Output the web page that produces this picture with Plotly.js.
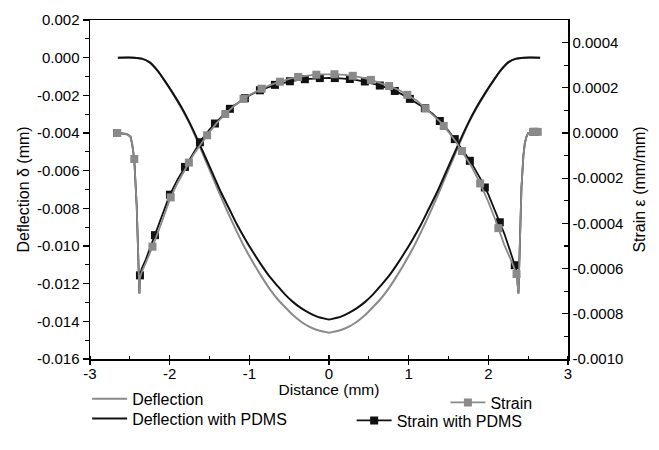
<!DOCTYPE html>
<html>
<head>
<meta charset="utf-8">
<script src="https://cdn.plot.ly/plotly-3.0.1.min.js"></script>
<style>html,body{margin:0;padding:0;background:#fff;}#chart{width:659px;height:450px;}</style>
</head>
<body>
<div id="chart"></div>
<script>
// ---------- data ----------
const deflDist = [-2.65,-2.45,-2.35,-2.25,-2.15,-2.05,-1.95,-1.85,-1.75,-1.65,-1.55,-1.45,-1.35,-1.25,-1.15,-1.05,-0.95,-0.85,-0.75,-0.65,-0.55,-0.45,-0.35,-0.25,-0.15,-0.05,0,
  0.05,0.15,0.25,0.35,0.45,0.55,0.65,0.75,0.85,0.95,1.05,1.15,1.25,1.35,1.45,1.55,1.65,1.75,1.85,1.95,2.05,2.15,2.25,2.35,2.45,2.65];
const deflection = [0,0,-0.00005,-0.00025,-0.0007,-0.00132,-0.00198,-0.0027,-0.0035,-0.00445,-0.00545,-0.00645,-0.00745,-0.0084,-0.0093,-0.01015,-0.0109,-0.0116,-0.01225,-0.0128,-0.01325,-0.01368,-0.01402,-0.01428,-0.01446,-0.01456,-0.0146,
  -0.01456,-0.01446,-0.01428,-0.01402,-0.01368,-0.01325,-0.0128,-0.01225,-0.0116,-0.0109,-0.01015,-0.0093,-0.0084,-0.00745,-0.00645,-0.00545,-0.00445,-0.0035,-0.0027,-0.00198,-0.00132,-0.0007,-0.00025,-0.00005,0,0];
const deflectionPDMS = [0,0,-0.00005,-0.00025,-0.0007,-0.0013,-0.00195,-0.00265,-0.00345,-0.00435,-0.0053,-0.00625,-0.0072,-0.00805,-0.0089,-0.00965,-0.01035,-0.011,-0.0116,-0.0121,-0.01258,-0.01298,-0.0133,-0.01355,-0.01375,-0.01386,-0.0139,
  -0.01386,-0.01375,-0.01355,-0.0133,-0.01298,-0.01258,-0.0121,-0.0116,-0.011,-0.01035,-0.00965,-0.0089,-0.00805,-0.0072,-0.00625,-0.0053,-0.00435,-0.00345,-0.00265,-0.00195,-0.0013,-0.0007,-0.00025,-0.00005,0,0];

const strainDist = [-2.66,-2.6,-2.55,-2.52,-2.49,-2.47,-2.445,-2.414,-2.394,-2.38,-2.373,-2.35,-2.3,
  -2.2,-2.1,-2.0,-1.9,-1.8,-1.7,-1.6,-1.5,-1.4,-1.3,-1.2,-1.1,-1.0,-0.9,-0.8,-0.7,-0.6,-0.5,-0.4,-0.3,-0.2,-0.1,0,
  0.1,0.2,0.3,0.4,0.5,0.6,0.7,0.8,0.9,1.0,1.1,1.2,1.3,1.4,1.5,1.6,1.7,1.8,1.9,2.0,2.1,2.2,2.3,
  2.354,2.378,2.4,2.416,2.44,2.458,2.48,2.5,2.56,2.62];
const strain = [0,-0.01e-4,-0.04e-4,-0.08e-4,-0.18e-4,-0.5e-4,-1.15e-4,-3.2e-4,-5.2e-4,-7.1e-4,-6.4e-4,-6.15e-4,-5.75e-4,
  -4.9e-4,-3.95e-4,-2.95e-4,-2.2e-4,-1.55e-4,-0.95e-4,-0.45e-4,0.05e-4,0.48e-4,0.85e-4,1.17e-4,1.45e-4,1.68e-4,1.87e-4,2.03e-4,2.17e-4,2.29e-4,2.39e-4,2.47e-4,2.53e-4,2.57e-4,2.59e-4,2.60e-4,
  2.59e-4,2.57e-4,2.53e-4,2.46e-4,2.38e-4,2.27e-4,2.16e-4,2.02e-4,1.86e-4,1.66e-4,1.44e-4,1.13e-4,0.82e-4,0.48e-4,0.05e-4,-0.42e-4,-0.98e-4,-1.55e-4,-2.25e-4,-3.05e-4,-3.95e-4,-4.95e-4,-5.75e-4,
  -6.24e-4,-7.1e-4,-4.2e-4,-2.4e-4,-1.0e-4,-0.45e-4,-0.15e-4,0,0.05e-4,0.05e-4];
const strainPDMS = [0,-0.01e-4,-0.04e-4,-0.08e-4,-0.18e-4,-0.5e-4,-1.15e-4,-3.2e-4,-5.2e-4,-7.1e-4,-6.3e-4,-6.0e-4,-5.6e-4,
  -4.65e-4,-3.75e-4,-2.75e-4,-2.05e-4,-1.45e-4,-0.85e-4,-0.30e-4,0.15e-4,0.55e-4,0.9e-4,1.2e-4,1.45e-4,1.66e-4,1.84e-4,1.99e-4,2.11e-4,2.20e-4,2.28e-4,2.34e-4,2.38e-4,2.41e-4,2.43e-4,2.44e-4,
  2.43e-4,2.41e-4,2.37e-4,2.31e-4,2.24e-4,2.14e-4,2.03e-4,1.90e-4,1.74e-4,1.54e-4,1.33e-4,1.11e-4,0.85e-4,0.50e-4,0.10e-4,-0.37e-4,-0.86e-4,-1.40e-4,-2.02e-4,-2.72e-4,-3.55e-4,-4.45e-4,-5.5e-4,
  -6.1e-4,-7.1e-4,-4.2e-4,-2.4e-4,-1.0e-4,-0.45e-4,-0.15e-4,0,0.05e-4,0.05e-4];

// symbol positions along the strain curves
const strainMarkDist = [-2.66,-2.444,-2.216,-1.987,-1.759,-1.530,-1.302,-1.073,-0.845,-0.616,-0.388,-0.159,0.069,0.298,0.526,0.755,0.983,1.212,1.440,1.669,1.897,2.126,2.354,2.56,2.62];
const strainMark = [0,-1.15e-4,-5.03e-4,-2.85e-4,-1.31e-4,-0.10e-4,0.84e-4,1.51e-4,1.96e-4,2.27e-4,2.48e-4,2.58e-4,2.60e-4,2.53e-4,2.35e-4,2.08e-4,1.69e-4,1.09e-4,0.31e-4,-0.80e-4,-2.23e-4,-4.21e-4,-6.24e-4,0.05e-4,0.05e-4];
const strainPDMSMarkDist = [-2.66,-2.373,-2.185,-1.997,-1.808,-1.62,-1.432,-1.244,-1.056,-0.867,-0.679,-0.491,-0.303,-0.115,0.073,0.262,0.450,0.638,0.826,1.015,1.203,1.391,1.579,1.768,1.956,2.144,2.332,2.58];
const strainPDMSMark = [0,-6.3e-4,-4.52e-4,-2.73e-4,-1.50e-4,-0.41e-4,0.42e-4,1.07e-4,1.54e-4,1.89e-4,2.13e-4,2.29e-4,2.38e-4,2.43e-4,2.43e-4,2.39e-4,2.28e-4,2.10e-4,1.86e-4,1.51e-4,1.10e-4,0.53e-4,-0.27e-4,-1.23e-4,-2.41e-4,-3.95e-4,-5.85e-4,0.05e-4];

const xTickVals = [-3,-2,-1,0,1,2,3];
const xTickText = ['-3','-2','-1','0','1','2','3'];
const yTickVals = [0.002,0,-0.002,-0.004,-0.006,-0.008,-0.010,-0.012,-0.014,-0.016];
const yTickText = ['0.002','0.000','-0.002','-0.004','-0.006','-0.008','-0.010','-0.012','-0.014','-0.016'];
const y2TickVals = [0.0004,0.0002,0,-0.0002,-0.0004,-0.0006,-0.0008,-0.0010];
const y2TickText = ['0.0004','0.0002','0.0000','-0.0002','-0.0004','-0.0006','-0.0008','-0.0010'];

const names = ['Deflection','Deflection with PDMS','Strain','Strain with PDMS'];

// ---------- styling ----------
const GRAY = '#8a8a8a', BLACK = '#111111';
const FONT = 'Liberation Sans, Arial, Helvetica, sans-serif';

const traces = [
  {x: deflDist, y: deflection, name: names[0], mode: 'lines', line: {color: GRAY, width: 2, shape: 'spline', smoothing: 0.8}, legend: 'legend'},
  {x: deflDist, y: deflectionPDMS, name: names[1], mode: 'lines', line: {color: BLACK, width: 2, shape: 'spline', smoothing: 0.8}, legend: 'legend4'},
  {x: strainDist, y: strainPDMS, yaxis: 'y2', mode: 'lines', line: {color: BLACK, width: 1.8}, showlegend: false, hoverinfo: 'skip'},
  {x: strainPDMSMarkDist, y: strainPDMSMark, yaxis: 'y2', mode: 'markers', marker: {symbol: 'square', size: 8, color: BLACK}, showlegend: false},
  {x: strainDist, y: strain, yaxis: 'y2', mode: 'lines', line: {color: GRAY, width: 1.8}, showlegend: false, hoverinfo: 'skip'},
  {x: strainMarkDist, y: strainMark, yaxis: 'y2', mode: 'markers', marker: {symbol: 'square', size: 8, color: GRAY}, showlegend: false},
  // legend entries for the strain series
  {x: [null], y: [null], yaxis: 'y2', name: names[2], mode: 'lines+markers', line: {color: GRAY, width: 1.8}, marker: {symbol: 'square', size: 8, color: GRAY}, legend: 'legend2'},
  {x: [null], y: [null], yaxis: 'y2', name: names[3], mode: 'lines+markers', line: {color: BLACK, width: 1.8}, marker: {symbol: 'square', size: 8, color: BLACK}, legend: 'legend3'},
  // holder for the inner half of the crossing x ticks
  {x: [null], y: [null], xaxis: 'x2', yaxis: 'y', mode: 'lines', showlegend: false, hoverinfo: 'skip'}
];

const axisCommon = {
  showgrid: false, zeroline: false, showline: true, linecolor: '#000', linewidth: 1.5,
  tickcolor: '#000', tickwidth: 1.3, tickfont: {family: FONT, size: 15, color: '#000'}
};
const legFont = {family: FONT, size: 16, color: '#000'};
function leg(x, y, xanchor) {
  return {x: x, y: y, xanchor: xanchor, yanchor: 'middle', bgcolor: 'rgba(0,0,0,0)', font: legFont, itemwidth: 35};
}

const layout = {
  width: 659, height: 450,
  margin: {l: 90, r: 91, t: 20, b: 72},
  paper_bgcolor: '#fff', plot_bgcolor: '#fff',
  font: {family: FONT, size: 15, color: '#000'},
  xaxis: Object.assign({}, axisCommon, {
    range: [-3, 3], tickmode: 'array', tickvals: xTickVals, ticktext: xTickText,
    ticks: 'outside', ticklen: 4, mirror: true, ticklabelstandoff: -4,
    minor: {tickmode: 'linear', tick0: -3, dtick: 0.5, ticks: 'inside', ticklen: 3, tickcolor: '#000', tickwidth: 1.2},
    title: {text: 'Distance (mm)', font: {family: FONT, size: 15.5, color: '#000'}, standoff: 1}
  }),
  xaxis2: {
    overlaying: 'x', anchor: 'y', side: 'bottom', range: [-3, 3],
    tickmode: 'array', tickvals: xTickVals, ticks: 'inside', ticklen: 4, tickcolor: '#000', tickwidth: 1.3,
    showticklabels: false, showline: false, showgrid: false, zeroline: false
  },
  yaxis: Object.assign({}, axisCommon, {
    range: [-0.016, 0.002], tickmode: 'array', tickvals: yTickVals, ticktext: yTickText,
    ticks: 'outside', ticklen: 6,
    minor: {tickmode: 'linear', tick0: -0.016, dtick: 0.001, ticks: 'outside', ticklen: 4, tickcolor: '#000', tickwidth: 1.2},
    title: {text: 'Deflection δ (mm)', font: {family: FONT, size: 16, color: '#000'}, standoff: 3}
  }),
  yaxis2: Object.assign({}, axisCommon, {
    overlaying: 'y', side: 'right', anchor: 'x',
    range: [-0.001, 0.0005], tickmode: 'array', tickvals: y2TickVals, ticktext: y2TickText,
    ticks: 'inside', ticklen: 6,
    minor: {tickmode: 'linear', tick0: -0.001, dtick: 0.0001, ticks: 'inside', ticklen: 4, tickcolor: '#000', tickwidth: 1.2},
    title: {text: 'Strain ε (mm/mm)', font: {family: FONT, size: 16, color: '#000'}, standoff: 11}
  }),
  legend: leg(-0.006, -0.1173, 'left'),
  legend4: leg(-0.006, -0.176, 'left'),
  legend2: leg(0.936, -0.1285, 'right'),
  legend3: leg(0.9156, -0.1816, 'right'),
  showlegend: true
};

Plotly.newPlot('chart', traces, layout, {displayModeBar: false, staticPlot: true});
</script>
</body>
</html>
